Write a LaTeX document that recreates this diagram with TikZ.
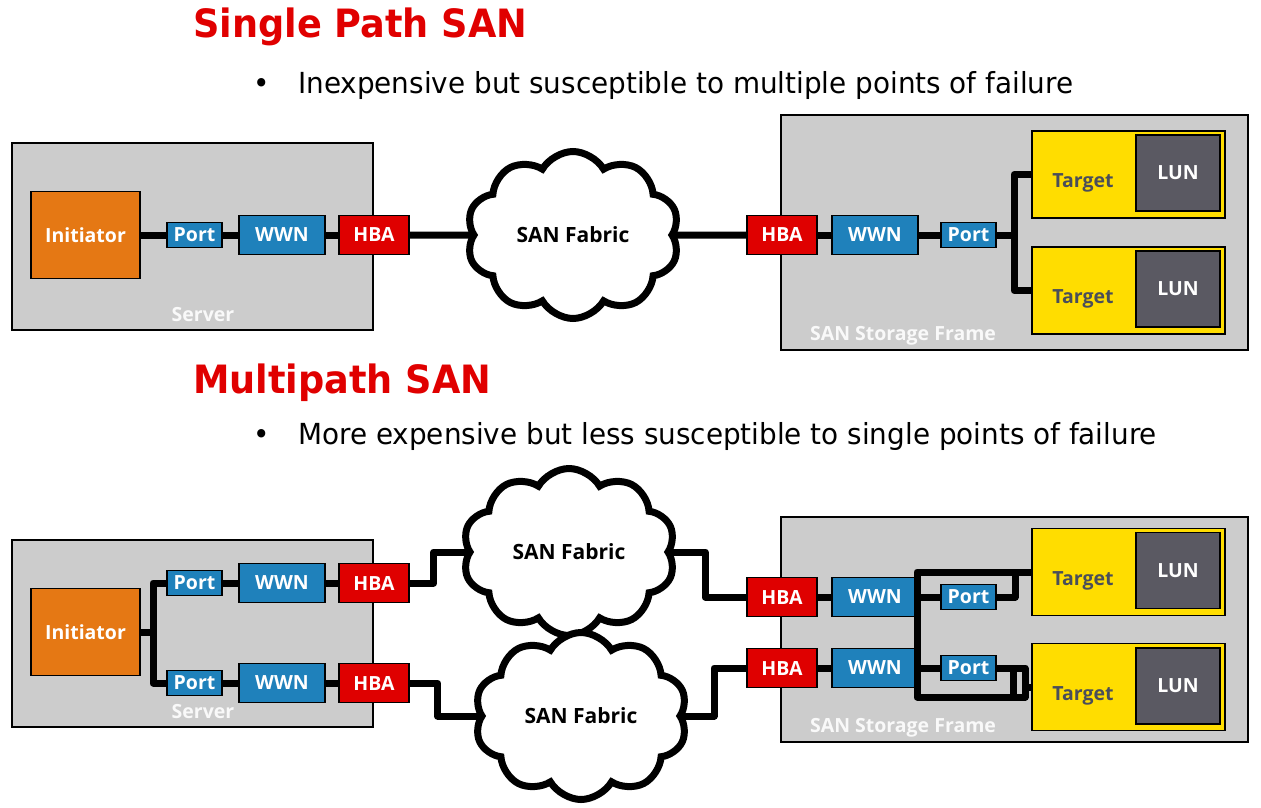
\documentclass[tikz,border=0pt]{standalone}
\usepackage{fontspec}
\setmainfont{DejaVu Sans}
\newfontfamily\headfont[FakeStretch=0.94]{DejaVu Sans}
\newfontfamily\bulletfont[FakeStretch=0.96]{DejaVu Sans}
\newfontfamily\boxfont{Open Sans}
\usetikzlibrary{shapes.symbols}
\definecolor{titlered}{HTML}{E00000}
\definecolor{hbared}{HTML}{DF0000}
\definecolor{wwnblue}{HTML}{1F81BB}
\definecolor{initorange}{HTML}{E57814}
\definecolor{framegray}{HTML}{CCCCCC}
\definecolor{tgtyellow}{HTML}{FFDD00}
\definecolor{lungray}{HTML}{5A5962}
\definecolor{tgttext}{HTML}{4A4E5A}
\begin{document}
\begin{tikzpicture}[x=1pt,y=-1pt,
	box/.style={draw=black,line width=1.2pt,inner sep=0pt,text=white,font=\myfontbox},
	frame/.style={draw=black,line width=1.2pt,fill=framegray,inner sep=0pt},
	initbox/.style={box,fill=initorange,minimum width=109pt,minimum height=87pt},
	portbox/.style={box,fill=wwnblue,minimum width=55pt,minimum height=25pt},
	wwnbox/.style={box,fill=wwnblue,minimum width=86pt,minimum height=39pt},
	hbabox/.style={box,fill=hbared,minimum width=70pt,minimum height=39pt},
	tgtbox/.style={box,fill=tgtyellow,minimum width=193pt,minimum height=87pt},
	lunbox/.style={box,fill=lungray,minimum width=84pt,minimum height=76pt},
	tgtlabel/.style={font=\myfontbox,text=tgttext,inner sep=0pt},
	framelabel/.style={font=\myfontbox,text=white!95!gray,inner sep=0pt},
	fabric/.style={cloud,cloud puffs=10,cloud puff arc=120,cloud ignores aspect,draw=black,line width=7pt,fill=white,inner sep=0pt,minimum width=213pt,minimum height=167pt,font=\myfontcloud,text=black},
	wire/.style={line width=7pt,line join=round},
	title/.style={font=\headfont\bfseries\fontsize{39}{40}\selectfont,text=titlered,inner sep=0pt},
	bullet/.style={font=\bulletfont\fontsize{29}{30}\selectfont,inner sep=0pt}]
	\newcommand{\myfontbox}{\boxfont\bfseries\fontsize{19.5}{22}\selectfont}
	\newcommand{\myfontcloud}{\boxfont\bfseries\fontsize{21}{24}\selectfont}
	\useasboundingbox (0,0) rectangle (1261,807);
	%Headings
	\node [title,anchor=base west] (ttlA) at (193,37) {Single Path SAN};
	\node [bullet,anchor=base] (dotA) at (262,93) {\textbullet};
	\node [bullet,anchor=base west] (txtA) at (298,93) {Inexpensive but susceptible to multiple points of failure};
	\node [title,anchor=base west] (ttlB) at (193,393) {Multipath SAN};
	\node [bullet,anchor=base] (dotB) at (262,444) {\textbullet};
	\node [bullet,anchor=base west] (txtB) at (298,444) {More expensive but less susceptible to single points of failure};
	%Single path: frames
	\node [frame,minimum width=361pt,minimum height=187pt] (srvA) at (192.5,236.5) {};
	\node [framelabel] at (203,315) {Server};
	\node [frame,minimum width=467pt,minimum height=235pt] (stoA) at (1014.5,232.5) {};
	\node [framelabel] at (903,336) {SAN Storage Frame};
	%Single path: server side
	\node [initbox] (initA) at (85.5,235) {Initiator};
	\node [portbox] (portA) at (194.5,235) {Port};
	\node [wwnbox] (wwnA) at (282,235) {WWN};
	\node [hbabox] (hbaA) at (374,235) {HBA};
	%Single path: storage side
	\node [hbabox] (hbaB) at (782,235) {HBA};
	\node [wwnbox] (wwnB) at (875,235) {WWN};
	\node [portbox] (portB) at (968.5,235) {Port};
	\node [tgtbox] (tgtA) at (1128.5,174.5) {};
	\node [lunbox] (lunA) at (1178,173) {LUN};
	\node [tgtlabel] at (1083,183) {Target};
	\node [tgtbox] (tgtB) at (1128.5,290.5) {};
	\node [lunbox] (lunB) at (1178,289) {LUN};
	\node [tgtlabel] at (1083,299) {Target};
	\node [fabric] (fabA) at (573,235) {SAN Fabric};
	%Single path: wires
	\coordinate (jA) at (1014,235);
	\draw [wire] (initA.east) -- (portA.west) (portA.east) -- (wwnA.west) (wwnA.east) -- (hbaA.west);
	\draw [wire] (hbaA.east) -- (fabA) -- (hbaB.west);
	\draw [wire] (hbaB.east) -- (wwnB.west) (wwnB.east) -- (portB.west);
	\draw [wire] (portB.east) -- (jA);
	\draw [wire] (tgtA.west) -| (jA) |- (tgtB.west);
	%Multipath: frames
	\node [frame,minimum width=361pt,minimum height=187pt] (srvB) at (192.5,633.5) {};
	\node [framelabel] at (203,712) {Server};
	\node [frame,minimum width=467pt,minimum height=225pt] (stoB) at (1014.5,629.5) {};
	\node [framelabel] at (903,728) {SAN Storage Frame};
	%Multipath: server side
	\node [initbox] (initC) at (85.5,632) {Initiator};
	\node [portbox] (portC) at (194.5,583) {Port};
	\node [wwnbox] (wwnC) at (282,583) {WWN};
	\node [hbabox] (hbaC) at (374,583) {HBA};
	\node [portbox] (portD) at (194.5,683) {Port};
	\node [wwnbox] (wwnD) at (282,683) {WWN};
	\node [hbabox] (hbaD) at (374,683) {HBA};
	%Multipath: storage side
	\node [hbabox] (hbaE) at (782,597) {HBA};
	\node [wwnbox] (wwnE) at (875,597) {WWN};
	\node [portbox] (portE) at (968.5,597) {Port};
	\node [hbabox] (hbaF) at (782,668) {HBA};
	\node [wwnbox] (wwnF) at (875,668) {WWN};
	\node [portbox] (portF) at (968.5,668) {Port};
	\node [tgtbox] (tgtC) at (1128.5,572) {};
	\node [lunbox] (lunC) at (1178,570.5) {LUN};
	\node [tgtlabel] at (1083,581) {Target};
	\node [tgtbox] (tgtD) at (1128.5,687) {};
	\node [lunbox] (lunD) at (1178,686) {LUN};
	\node [tgtlabel] at (1083,696) {Target};
	\node [fabric] (fabB) at (569,552) {SAN Fabric};
	\node [fabric] (fabC) at (581,716) {SAN Fabric};
	%Multipath: wires
	\coordinate (splitC) at (153,632);
	\draw [wire] (initC.east) -- (splitC);
	\draw [wire] (portC.west) -| (splitC) |- (portD.west);
	\draw [wire] (portC.east) -- (wwnC.west) (wwnC.east) -- (hbaC.west);
	\draw [wire] (portD.east) -- (wwnD.west) (wwnD.east) -- (hbaD.west);
	\draw [wire] (hbaC.east) -- ++(24,0) |- (fabB.west);
	\draw [wire] (fabB.east) -- ++(33,0) |- (hbaE.west);
	\draw [wire] (hbaD.east) -- ++(28,0) |- (fabC.west);
	\draw [wire] (fabC.east) -- ++(30,0) |- (hbaF.west);
	\draw [wire] (hbaE.east) -- (wwnE.west) (wwnE.east) -- (portE.west);
	\draw [wire] (hbaF.east) -- (wwnF.west) (wwnF.east) -- (portF.west);
	%Multipath: bus to the targets
	\coordinate (busT) at (917,572);
	\coordinate (busB) at (917,697);
	\coordinate (jE) at (1015,572);
	\coordinate (loopNW) at (1013,668);
	\coordinate (loopSE) at (1025,697);
	\draw [wire] (tgtC.west) -- (busT) -- (busB) -- (loopSE) |- (portF.east);
	\draw [wire] (portE.east) -| (jE);
	\draw [wire] (loopNW) -- (loopNW |- loopSE);
	\draw [wire] (loopSE |- tgtD.west) -- (tgtD.west);
\end{tikzpicture}
\end{document}
